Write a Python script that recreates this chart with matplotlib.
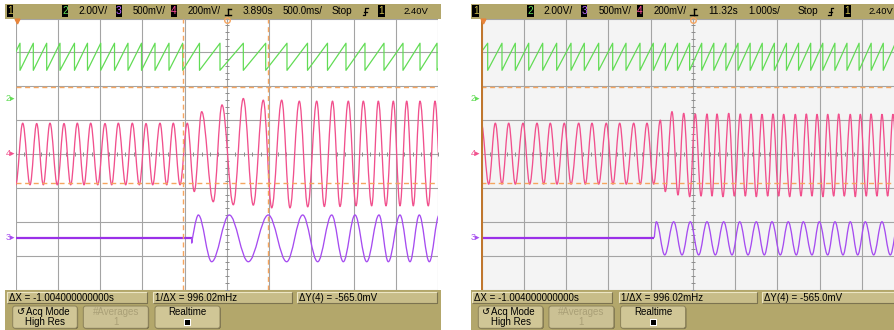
import matplotlib
matplotlib.use("Agg")
import matplotlib.pyplot as plt
from matplotlib.path import Path
from matplotlib.patches import PathPatch, Rectangle, FancyBboxPatch
import numpy as np

plt.rcParams['font.family'] = ['Liberation Sans', 'DejaVu Sans']

# ======================= DATA (screen divisions: x 0..10, y -4..4) =======================
# ---- left capture (500 ms/div) ----
l_delay, l_tscale = "3.890s", "500.0ms/"
l_green_start, l_green_top, l_green_bot = 3.01, 3.27, 2.47
l_green_peaks = [0.102, 0.417, 0.734, 1.049, 1.392, 1.700, 2.013, 2.340, 2.659, 2.979,
                 3.299, 3.630, 3.955, 4.352, 4.838, 5.390, 5.920, 6.424, 6.910, 7.383,
                 7.821, 8.271, 8.721, 9.171, 9.574, 9.977, 10.420]
l_pink_x = [0.000, 0.166, 0.339, 0.497, 0.654, 0.812, 0.985, 1.144, 1.302, 1.459,
            1.617, 1.776, 1.942, 2.115, 2.273, 2.430, 2.605, 2.761, 2.927, 3.086,
            3.244, 3.417, 3.576, 3.732, 3.891, 4.063, 4.229, 4.404, 4.679, 4.885,
            5.153, 5.390, 5.626, 5.863, 6.062, 6.299, 6.495, 6.716, 6.915, 7.128,
            7.308, 7.502, 7.680, 7.876, 8.059, 8.231, 8.430, 8.586, 8.769, 8.942,
            9.100, 9.259, 9.415, 9.574, 9.770, 9.929, 10.090]
l_pink_y = [-0.91, 0.91, -0.91, 0.90, -0.91, 0.91, -0.91, 0.90, -0.91, 0.91,
            -0.91, 0.91, -0.91, 0.90, -0.91, 0.91, -0.91, 0.91, -0.91, 0.90,
            -0.91, 0.91, -0.91, 0.91, -0.91, 0.91, -1.11, 1.25, -1.41, 1.45,
            -1.50, 1.64, -1.51, 1.59, -1.59, 1.59, -1.59, 1.56, -1.56, 1.56,
            -1.55, 1.56, -1.55, 1.56, -1.53, 1.56, -1.53, 1.56, -1.53, 1.56,
            -1.53, 1.56, -1.53, 1.56, -1.53, 1.56, -1.53]
l_purple_flat, l_purple_step_x, l_purple_step_y = -2.48, 4.168, -2.63
l_purple_x = [4.324, 4.641, 5.058, 5.508, 5.982, 6.417, 6.796, 7.151, 7.483, 7.758,
              8.035, 8.312, 8.603, 8.823, 9.100, 9.337, 9.557, 9.794, 10.030]
l_purple_y = [-1.80, -3.18, -1.80, -3.18, -1.80, -3.18, -1.80, -3.18, -1.80, -3.18,
              -1.80, -3.18, -1.80, -3.18, -1.80, -3.18, -1.80, -3.18, -1.80]
l_cursor_x = [3.969, 5.982]

# ---- right capture (1 s/div) ----
r_delay, r_tscale = "11.32s", "1.000s/"
r_green_start, r_green_top, r_green_bot = 3.01, 3.27, 2.47
r_green_peaks = [0.151, 0.489, 0.804, 1.121, 1.452, 1.782, 2.121, 2.435, 2.775, 3.106,
                 3.421, 3.752, 4.066, 4.352, 4.638, 4.925, 5.211, 5.497, 5.783, 6.069,
                 6.356, 6.642, 6.928, 7.214, 7.500, 7.787, 8.073, 8.359, 8.645, 8.931,
                 9.217, 9.503, 9.789, 10.075]
r_pink_x = [0.000, 0.175, 0.331, 0.489, 0.648, 0.804, 0.986, 1.144, 1.317, 1.475,
            1.631, 1.790, 1.962, 2.121, 2.303, 2.459, 2.617, 2.775, 2.955, 3.113,
            3.272, 3.428, 3.603, 3.759, 3.917, 4.076, 4.232, 4.350, 4.508, 4.650,
            4.785, 4.927, 5.059, 5.194, 5.336, 5.454, 5.572, 5.714, 5.849, 5.981,
            6.123, 6.241, 6.376, 6.501, 6.636, 6.771, 6.896, 7.031, 7.149, 7.291,
            7.423, 7.558, 7.683, 7.818, 7.936, 8.078, 8.189, 8.331, 8.449, 8.581,
            8.723, 8.841, 8.960, 9.101, 9.213, 9.354, 9.472, 9.607, 9.732, 9.870]
r_pink_y = [0.91, -0.89, 0.91, -0.89, 0.91, -0.89, 0.91, -0.89, 0.91, -0.89,
            0.91, -0.89, 0.91, -0.89, 0.91, -0.89, 0.91, -0.89, 0.91, -0.89,
            0.91, -0.89, 0.91, -0.89, 0.91, -0.89, 1.00, -1.11, 1.25, -1.21,
            1.20, -1.26, 1.18, -1.24, 1.18, -1.24, 1.18, -1.26, 1.20, -1.24,
            1.18, -1.24, 1.18, -1.26, 1.17, -1.24, 1.18, -1.24, 1.17, -1.26,
            1.17, -1.24, 1.18, -1.24, 1.17, -1.26, 1.17, -1.24, 1.18, -1.24,
            1.17, -1.26, 1.17, -1.24, 1.18, -1.24, 1.17, -1.24, 1.17, -1.24]
r_purple_flat, r_purple_step_x, r_purple_step_y = -2.47, 4.090, -2.47
r_purple_x = [4.137, 4.336, 4.548, 4.745, 4.941, 5.139, 5.336, 5.532, 5.730, 5.927,
              6.109, 6.305, 6.501, 6.690, 6.872, 7.068, 7.257, 7.447, 7.612, 7.818,
              7.990, 8.189, 8.361, 8.551, 8.723, 8.898, 9.078, 9.276, 9.472, 9.669,
              9.860]
r_purple_y = [-2.00, -2.98, -2.00, -2.98, -2.00, -2.98, -2.00, -2.98, -2.00, -2.98,
              -2.00, -2.98, -2.00, -2.98, -2.00, -2.98, -2.00, -2.98, -2.00, -2.98,
              -2.00, -2.98, -2.00, -2.98, -2.00, -2.98, -2.00, -2.98, -2.00, -2.98,
              -2.00]
r_cursor_x = [0.0]

# ---- shared settings / readouts ----
cursor_y = [1.968, -0.864]
ch_ground = {"2": 1.65, "4": 0.0, "3": -2.47}
scale_labels = ["2.00V/", "500mV/", "200mV/"]
trig_level = "2.40V"
meas_labels = ["\u0394X = -1.004000000000s", "1/\u0394X = 996.02mHz", "\u0394Y(4) = -565.0mV"]
trig_pos = 5.0

# ======================= STYLE =======================
W, H = 894, 330
OLIVE = '#b3a76b'
BOX = '#c8bd89'
BTN = '#d0c696'
GRID = '#a4a4a4'
GREEN = '#62dc55'
PINK = '#f1508d'
PURPLE = '#a64cf0'
ORANGE = '#f6a55f'
CH1 = '#cdbd4c'
GY0, GH = 18.5, 271.0
K = 0.3634

fig = plt.figure(figsize=(W / 100, H / 100), dpi=100)
ov = fig.add_axes([0, 0, 1, 1])
ov.set_xlim(0, W)
ov.set_ylim(H, 0)
ov.axis('off')


def rect(x0, y0, x1, y1, fc, ec='none', lw=0, z=1):
    ov.add_patch(Rectangle((x0, y0), x1 - x0, y1 - y0, facecolor=fc, edgecolor=ec, lw=lw, zorder=z))


def bevel_box(x0, y0, x1, y1, fc):
    rect(x0, y0, x1, y1, fc, z=2)
    ov.plot([x0, x0, x1], [y1, y0, y0], color='#ece5c4', lw=0.8, zorder=3, solid_capstyle='butt')
    ov.plot([x0, x1, x1], [y1, y1, y0], color='#7c7350', lw=0.8, zorder=3, solid_capstyle='butt')


def button(x0, y0, x1, y1, fc):
    ov.add_patch(FancyBboxPatch((x0 + 0.8, y0 + 0.8), x1 - x0, y1 - y0,
                                boxstyle="round,pad=0,rounding_size=2.5",
                                facecolor='#6e6646', edgecolor='none', zorder=2))
    ov.add_patch(FancyBboxPatch((x0, y0), x1 - x0, y1 - y0,
                                boxstyle="round,pad=0,rounding_size=2.5",
                                facecolor=fc, edgecolor='#8c825a', lw=0.7, zorder=3))


def txt(x, y, s, color='black', size=7.3, ha='left', z=5):
    ov.text(x, y, s, color=color, fontsize=size, ha=ha, va='center', zorder=z)


def chbox(x0, x1, label, color):
    rect(x0, 5.3, x1, 16.8, 'black', z=3)
    txt((x0 + x1) / 2, 11.2, label, color=color, size=7.3, ha='center')


def wave(ax, xs, ys, color, lead=None, lw=0.95):
    if lead:
        verts = list(lead)
        codes = [Path.MOVETO] + [Path.LINETO] * (len(lead) - 1)
        verts += [(lead[-1][0], lead[-1][1]),
                  (xs[0] - (xs[0] - lead[-1][0]) * K, ys[0]),
                  (xs[0], ys[0])]
        codes += [Path.CURVE4] * 3
    else:
        verts = [(xs[0], ys[0])]
        codes = [Path.MOVETO]
    for xa, ya, xb, yb in zip(xs[:-1], ys[:-1], xs[1:], ys[1:]):
        d = (xb - xa) * K
        verts += [(xa + d, ya), (xb - d, yb), (xb, yb)]
        codes += [Path.CURVE4] * 3
    ax.add_patch(PathPatch(Path(verts, codes), facecolor='none', edgecolor=color,
                           lw=lw, zorder=3, joinstyle='round'))


def sawtooth(ax, start, top, bot, peaks, color):
    xs, ys = [0.0], [start]
    for p in peaks:
        xs += [p, p]
        ys += [top, bot]
    ax.plot(xs, ys, color=color, lw=0.9, zorder=3)


panels = [
    dict(gx=15.7, gw=422.3, bg='white', delay=l_delay, tscale=l_tscale,
         g=(l_green_start, l_green_top, l_green_bot, l_green_peaks),
         pk=(l_pink_x, l_pink_y),
         pu=(l_purple_flat, l_purple_step_x, l_purple_step_y, l_purple_x, l_purple_y),
         cx=l_cursor_x, dashed_x=True),
    dict(gx=481.3, gw=423.0, bg='#f4f4f4', delay=r_delay, tscale=r_tscale,
         g=(r_green_start, r_green_top, r_green_bot, r_green_peaks),
         pk=(r_pink_x, r_pink_y),
         pu=(r_purple_flat, r_purple_step_x, r_purple_step_y, r_purple_x, r_purple_y),
         cx=r_cursor_x, dashed_x=False),
]

for P in panels:
    gx = P['gx']
    # ---------- bars ----------
    rect(gx - 10.5, 4.0, gx + 425.5, GY0, OLIVE)
    rect(gx - 10.5, GY0 + GH, gx + 425.5, H, OLIVE)

    chbox(gx - 9.0, gx - 2.4, "1", CH1)
    chbox(gx + 46.0, gx + 52.6, "2", GREEN)
    txt(gx + 62.3, 11.2, scale_labels[0])
    chbox(gx + 99.8, gx + 105.8, "3", '#b866ff')
    txt(gx + 117.3, 11.2, scale_labels[1], size=6.9)
    chbox(gx + 155.3, gx + 161.3, "4", '#ff4f9a')
    txt(gx + 172.3, 11.2, scale_labels[2], size=6.9)
    # trigger-position icon
    tx = gx + 212.3
    ov.plot([tx - 3.5, tx + 3.0], [15.2, 15.2], color='black', lw=1.0, zorder=5)
    ov.plot([tx, tx], [9.0, 15.2], color='black', lw=1.0, zorder=5)
    ov.plot([tx, tx + 2.5], [9.0, 9.0], color='black', lw=1.0, zorder=5)
    txt(gx + 227.3, 11.2, P['delay'])
    txt(gx + 267.3, 11.2, P['tscale'], size=7.0)
    txt(gx + 316.3, 11.2, "Stop")
    sx = gx + 349.3
    ov.plot([sx - 2.5, sx, sx, sx + 2.5], [15.0, 15.0, 7.5, 7.5], color='black', lw=0.9, zorder=5)
    ov.plot([sx - 1.5, sx + 1.5], [11.5, 11.5], color='black', lw=0.9, zorder=5)
    chbox(gx + 362.3, gx + 369.3, "1", CH1)
    txt(gx + 387.6, 11.2, trig_level, size=6.8)

    # ---------- measurement boxes ----------
    for (a, b), lab in zip([(-9.0, 131.0), (137.3, 276.0), (281.0, 421.0)], meas_labels):
        bevel_box(gx + a, 291.7, gx + b, 303.3, BOX)
        txt(gx + a + 2.0, 297.6, lab, size=7.0)

    # ---------- softkeys ----------
    button(gx - 3.0, 306.0, gx + 61.6, 328.3, BTN)
    txt(gx + 1.0, 312.3, "\u21ba", size=7.0)
    txt(gx + 10.0, 312.3, "Acq Mode", size=7.0)
    txt(gx + 29.3, 322.3, "High Res", size=7.0, ha='center')
    button(gx + 67.6, 306.0, gx + 132.6, 328.3, '#cbc194')
    txt(gx + 100.1, 312.3, "#Averages", color='#aaa077', size=7.0, ha='center')
    txt(gx + 100.1, 322.3, "1", color='#aaa077', size=7.0, ha='center')
    button(gx + 139.3, 306.0, gx + 204.3, 328.3, BTN)
    txt(gx + 171.8, 312.3, "Realtime", size=7.0, ha='center')
    rect(gx + 168.3, 318.6, gx + 175.3, 325.6, 'white', z=4)
    rect(gx + 169.3, 319.6, gx + 174.3, 324.6, 'black', z=5)

    # ---------- graticule axes ----------
    ax = fig.add_axes([gx / W, 1 - (GY0 + GH) / H, P['gw'] / W, GH / H])
    ax.set_xlim(0, 10)
    ax.set_ylim(-4, 4)
    ax.set_facecolor(P['bg'])
    for s in ax.spines.values():
        s.set_visible(False)
    ax.set_xticks([])
    ax.set_yticks([])
    for i in range(11):
        ax.axvline(i, color=GRID, lw=0.8, zorder=1)
    for j in range(-4, 5):
        ax.axhline(j, color=GRID, lw=0.8, zorder=1)
    minor = np.arange(0, 10.01, 0.2)
    ax.plot(minor, np.zeros_like(minor), ls='none', marker='|', ms=3.5, mew=0.7,
            color='#8c8c8c', zorder=1)
    minory = np.arange(-4, 4.01, 0.2)
    ax.plot(np.full_like(minory, 5.0), minory, ls='none', marker='_', ms=3.5, mew=0.7,
            color='#8c8c8c', zorder=1)

    # traces
    gs, gt, gb, gp = P['g']
    sawtooth(ax, gs, gt, gb, gp, GREEN)
    wave(ax, P['pk'][0], P['pk'][1], PINK)
    pf, psx, psy, pux, puy = P['pu']
    ax.plot([0, psx], [pf, pf], color='#9a30e8', lw=1.6, zorder=3, solid_capstyle='butt')
    wave(ax, pux, puy, PURPLE, lead=[(psx, pf), (psx, psy)])

    # cursors
    for cy in cursor_y:
        ax.axhline(cy, color=ORANGE, lw=1.0, ls=(0, (3.6, 2.6)), zorder=4)
    for cx in P['cx']:
        if P['dashed_x']:
            ax.axvline(cx, color=ORANGE, lw=1.0, ls=(0, (3.6, 2.6)), zorder=4)
        else:
            ax.axvline(cx + 0.01, color='#c0772e', lw=1.5, zorder=4)

    # markers
    ax.plot([trig_pos], [3.97], marker='o', ms=4, mfc='none', mec=ORANGE, mew=1.0,
            clip_on=False, zorder=6)
    ax.plot([0.04], [3.93], marker='v', ms=3.5, color='#e8843a', clip_on=False, zorder=6)
    for lab, lvl in ch_ground.items():
        col = {"2": GREEN, "4": PINK, "3": PURPLE}[lab]
        ax.text(-0.02, lvl, lab + "\u25b8", color=col, fontsize=6.5, ha='right', va='center',
                clip_on=False, zorder=6)

fig.savefig("out.png", dpi=100)
